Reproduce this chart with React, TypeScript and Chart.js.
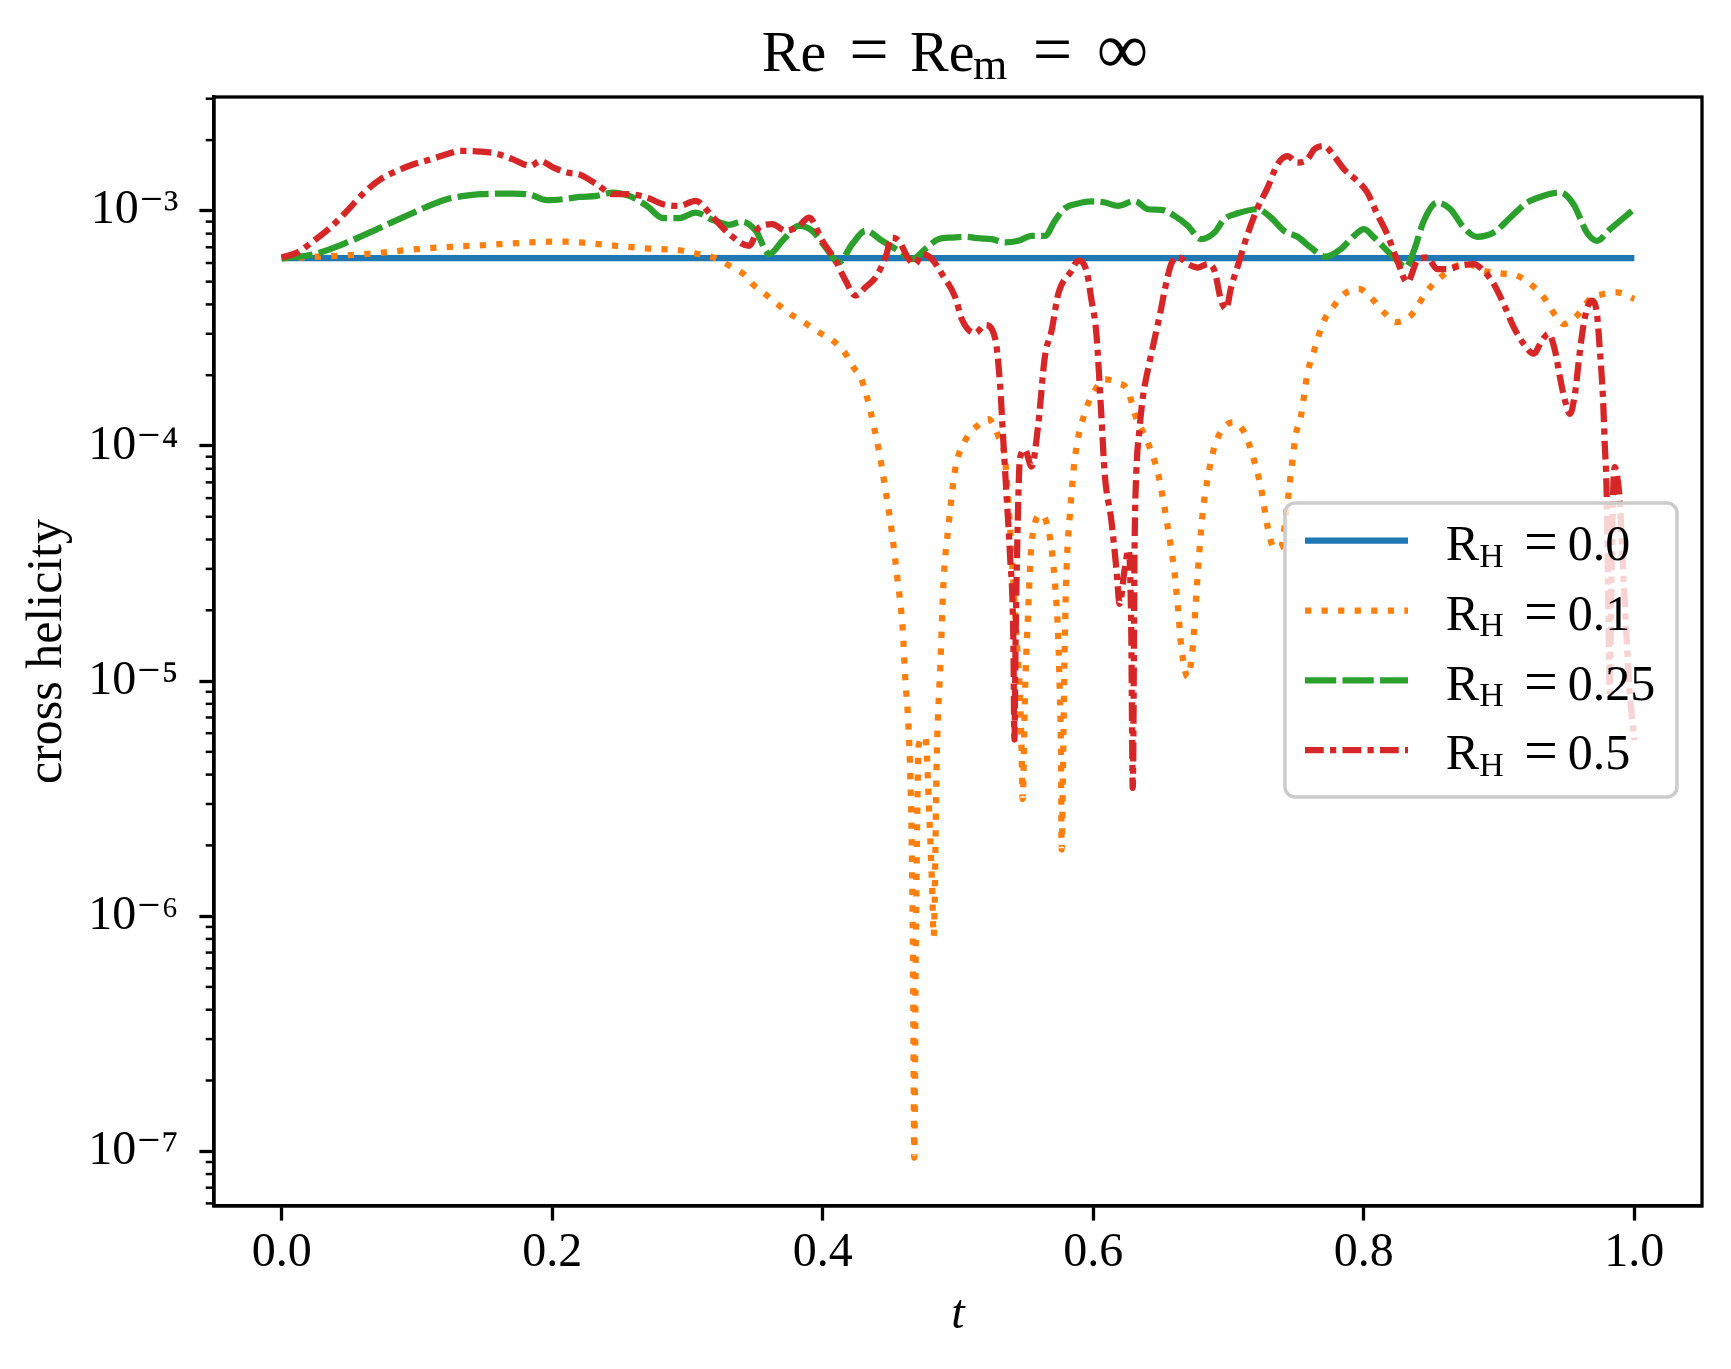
import React, { useEffect, useRef } from "react";
import { Chart, registerables } from "chart.js";

Chart.register(...registerables);

const FONT = '"Liberation Serif", "DejaVu Serif", serif';

// ---- data ----
const rhLabels = ["0.0", "0.1", "0.25", "0.5"];
const lineColors = ["#1f77b4", "#ff7f0e", "#2ca02c", "#d62728"];

const xTicks = [0, 0.2, 0.4, 0.6, 0.8, 1.0];
const yTicks = [1e-7, 1e-6, 1e-5, 1e-4, 1e-3];
const minorMultipliers = [2, 3, 4, 5, 6, 7, 8, 9];
const xLimits = [-0.05, 1.05];
const yLimits = [5.85e-8, 3.05e-3];

// [t, cross helicity]
const helicityRH000: number[][] = [[0, 6.3e-4], [1, 6.3e-4]];

const helicityRH010: number[][] = [
  [0, 6.28e-4], [0.026, 6.38e-4], [0.051, 6.49e-4], [0.075, 6.65e-4], [0.1, 6.87e-4],
  [0.125, 7.03e-4], [0.149, 7.14e-4], [0.174, 7.29e-4], [0.198, 7.39e-4], [0.211, 7.39e-4],
  [0.223, 7.32e-4], [0.247, 7.1e-4], [0.272, 6.91e-4], [0.294, 6.8e-4], [0.306, 6.59e-4],
  [0.319, 6.34e-4], [0.331, 5.85e-4], [0.343, 5.3e-4], [0.348, 4.89e-4], [0.358, 4.4e-4],
  [0.368, 3.95e-4], [0.378, 3.58e-4], [0.387, 3.33e-4], [0.397, 3.05e-4], [0.408, 2.79e-4],
  [0.417, 2.46e-4], [0.423, 2.15e-4], [0.429, 1.9e-4], [0.441, 9.9e-5], [0.446, 6.73e-5],
  [0.451, 4.34e-5], [0.455, 2.79e-5], [0.459, 1.7e-5], [0.461, 1.03e-5], [0.4635, 6.28e-6],
  [0.4648, 3.83e-6], [0.466, 1.67e-6], [0.4668, 5.56e-7], [0.4677, 9.4e-8], [0.4687, 6.3e-7],
  [0.4698, 2.5e-6], [0.4709, 5.33e-6], [0.4758, 5.79e-6], [0.479, 2.5e-6], [0.481, 1.26e-6],
  [0.482, 8.18e-7], [0.4844, 5.05e-6], [0.4869, 1.15e-5], [0.4893, 2.64e-5], [0.493, 4.57e-5],
  [0.4979, 7.94e-5], [0.5052, 1.05e-4], [0.5151, 1.23e-4], [0.5224, 1.3e-4], [0.5298, 1.1e-4],
  [0.5347, 8.87e-5], [0.5384, 4.57e-5], [0.5409, 2.64e-5], [0.5433, 1.52e-5], [0.5458, 8.75e-6],
  [0.547, 5.05e-6], [0.5478, 3.15e-6], [0.5495, 8.75e-6], [0.5519, 2.0e-5], [0.5544, 3.88e-5],
  [0.5617, 5.1e-5], [0.5679, 4.09e-5], [0.5716, 2.64e-5], [0.5741, 1.52e-5], [0.5753, 8.75e-6],
  [0.5761, 5.05e-6], [0.5766, 1.92e-6], [0.5778, 5.05e-6], [0.579, 1.52e-5], [0.5802, 2.94e-5],
  [0.5827, 5.1e-5], [0.5864, 8.87e-5], [0.5937, 1.38e-4], [0.6011, 1.72e-4], [0.6085, 1.92e-4],
  [0.6183, 1.85e-4], [0.6257, 1.72e-4], [0.6306, 1.37e-4], [0.6404, 1.03e-4], [0.6478, 7.66e-5],
  [0.6527, 5.44e-5], [0.6564, 4.04e-5], [0.6601, 2.88e-5], [0.6626, 2.05e-5], [0.665, 1.41e-5],
  [0.6699, 1.04e-5], [0.6736, 1.41e-5], [0.6761, 2.3e-5], [0.6785, 3.61e-5], [0.681, 5.25e-5],
  [0.6847, 7.36e-5], [0.6896, 9.93e-5], [0.6957, 1.18e-4], [0.7031, 1.26e-4], [0.7117, 1.14e-4],
  [0.7191, 8.59e-5], [0.724, 6.61e-5], [0.7289, 4.52e-5], [0.7338, 3.67e-5], [0.7388, 3.72e-5],
  [0.7425, 5.06e-5], [0.7461, 7.66e-5], [0.7498, 1.12e-4], [0.7535, 1.34e-4], [0.7584, 2.04e-4],
  [0.7633, 2.55e-4], [0.7706, 3.41e-4], [0.778, 3.95e-4], [0.7854, 4.43e-4], [0.7965, 4.66e-4],
  [0.805, 4.29e-4], [0.8149, 3.7e-4], [0.8235, 3.36e-4], [0.8346, 3.58e-4], [0.8469, 4.57e-4],
  [0.8567, 5.21e-4], [0.8665, 5.78e-4], [0.8763, 5.94e-4], [0.8886, 5.56e-4], [0.9009, 5.42e-4],
  [0.9132, 5.3e-4], [0.9231, 4.89e-4], [0.9329, 4.29e-4], [0.9427, 3.52e-4], [0.9477, 3.3e-4],
  [0.9575, 3.58e-4], [0.9673, 4.22e-4], [0.9771, 4.43e-4], [0.987, 4.5e-4], [1.0, 4.22e-4],
];

const helicityRH025: number[][] = [
  [0, 6.28e-4], [0.0238, 6.54e-4], [0.0484, 7.34e-4], [0.073, 8.49e-4], [0.0975, 9.84e-4],
  [0.122, 1.121e-3], [0.135, 1.158e-3], [0.147, 1.177e-3], [0.171, 1.185e-3], [0.184, 1.169e-3],
  [0.196, 1.11e-3], [0.208, 1.121e-3], [0.22, 1.146e-3], [0.233, 1.158e-3], [0.245, 1.196e-3],
  [0.257, 1.158e-3], [0.27, 1.05e-3], [0.282, 9.31e-4], [0.294, 9.31e-4], [0.306, 9.84e-4],
  [0.319, 9.13e-4], [0.331, 8.72e-4], [0.34, 9.0e-4], [0.3505, 8.23e-4], [0.3604, 6.55e-4],
  [0.3702, 7.46e-4], [0.3825, 8.64e-4], [0.3923, 8.23e-4], [0.4021, 6.99e-4], [0.4119, 6.04e-4],
  [0.4218, 7.22e-4], [0.4316, 8.23e-4], [0.4439, 7.46e-4], [0.4562, 6.76e-4], [0.466, 6.23e-4],
  [0.4758, 6.88e-4], [0.4856, 7.58e-4], [0.4954, 7.7e-4], [0.5053, 7.76e-4], [0.5151, 7.65e-4],
  [0.5249, 7.58e-4], [0.5347, 7.34e-4], [0.5446, 7.46e-4], [0.5544, 7.83e-4], [0.5642, 7.83e-4],
  [0.5716, 9.07e-4], [0.579, 1.026e-3], [0.5888, 1.074e-3], [0.5986, 1.096e-3], [0.6085, 1.085e-3],
  [0.6183, 1.05e-3], [0.6306, 1.103e-3], [0.6404, 1.016e-3], [0.6502, 1.01e-3], [0.6601, 9.52e-4],
  [0.6699, 8.64e-4], [0.6797, 7.58e-4], [0.6896, 8.09e-4], [0.6969, 9.22e-4], [0.7067, 9.76e-4],
  [0.7215, 1.016e-3], [0.7313, 9.37e-4], [0.7411, 8.22e-4], [0.751, 7.76e-4], [0.7608, 6.98e-4],
  [0.7718, 6.38e-4], [0.7829, 6.87e-4], [0.7928, 7.83e-4], [0.8001, 8.36e-4], [0.8075, 7.71e-4],
  [0.8173, 6.76e-4], [0.8247, 6.14e-4], [0.8309, 5.74e-4], [0.837, 6.76e-4], [0.8444, 9.08e-4],
  [0.8542, 1.084e-3], [0.864, 1.016e-3], [0.8739, 8.49e-4], [0.8837, 7.76e-4], [0.896, 8.09e-4],
  [0.9083, 9.37e-4], [0.9206, 1.084e-3], [0.9329, 1.159e-3], [0.9452, 1.197e-3], [0.955, 1.067e-3],
  [0.9649, 8.09e-4], [0.9722, 7.46e-4], [0.9821, 8.36e-4], [1.0, 1.02e-3],
];

const helicityRH050: number[][] = [
  [0, 6.34e-4], [0.0115, 6.65e-4], [0.0238, 7.46e-4], [0.036, 8.49e-4], [0.0484, 1.0e-3],
  [0.061, 1.196e-3], [0.073, 1.362e-3], [0.0852, 1.479e-3], [0.0975, 1.578e-3], [0.11, 1.656e-3],
  [0.122, 1.741e-3], [0.132, 1.798e-3], [0.147, 1.787e-3], [0.159, 1.75e-3], [0.171, 1.656e-3],
  [0.184, 1.552e-3], [0.191, 1.63e-3], [0.201, 1.527e-3], [0.211, 1.455e-3], [0.22, 1.43e-3],
  [0.233, 1.297e-3], [0.245, 1.177e-3], [0.257, 1.177e-3], [0.27, 1.139e-3], [0.282, 1.067e-3],
  [0.294, 1.05e-3], [0.306, 1.103e-3], [0.319, 9.37e-4], [0.331, 7.96e-4], [0.3456, 7.1e-4],
  [0.353, 8.49e-4], [0.3628, 8.78e-4], [0.3727, 8.23e-4], [0.3825, 8.64e-4], [0.3899, 9.37e-4],
  [0.3997, 7.46e-4], [0.4095, 6.14e-4], [0.4169, 5.05e-4], [0.4243, 4.36e-4], [0.4316, 4.73e-4],
  [0.439, 5.21e-4], [0.4464, 6.34e-4], [0.4513, 7.7e-4], [0.4562, 7.46e-4], [0.4636, 6.23e-4],
  [0.4685, 5.94e-4], [0.4734, 6.55e-4], [0.4808, 6.23e-4], [0.4882, 5.38e-4], [0.498, 4.29e-4],
  [0.5029, 3.45e-4], [0.5127, 3.02e-4], [0.5201, 3.27e-4], [0.5275, 2.86e-4], [0.5311, 1.82e-4],
  [0.5335, 1.05e-4], [0.536, 6.03e-5], [0.5384, 3.48e-5], [0.5409, 1.52e-5], [0.5417, 5.64e-6],
  [0.5426, 1.52e-5], [0.5441, 4.57e-5], [0.5458, 8.87e-5], [0.5495, 9.62e-5], [0.5544, 8.17e-5],
  [0.5593, 1.23e-4], [0.5642, 2.39e-4], [0.5692, 3.1e-4], [0.5741, 4.43e-4], [0.5839, 5.56e-4],
  [0.5888, 6.14e-4], [0.595, 5.56e-4], [0.5986, 4.2e-4], [0.6023, 3.0e-4], [0.606, 1.34e-4],
  [0.6084, 7.66e-5], [0.6134, 4.8e-5], [0.6171, 2.99e-5], [0.6195, 2.13e-5], [0.6232, 2.99e-5],
  [0.6262, 3.61e-5], [0.628, 1.78e-5], [0.6292, 3.51e-6], [0.6306, 3.98e-5], [0.6318, 7.66e-5],
  [0.6343, 1.2e-4], [0.6367, 1.62e-4], [0.6404, 2.11e-4], [0.6453, 2.85e-4], [0.6502, 3.85e-4],
  [0.6527, 4.57e-4], [0.6576, 5.94e-4], [0.6626, 6.38e-4], [0.6699, 5.94e-4], [0.6773, 5.74e-4],
  [0.6847, 5.94e-4], [0.6896, 5.56e-4], [0.6945, 4.15e-4], [0.6982, 3.83e-4], [0.7019, 4.73e-4],
  [0.7067, 5.8e-4], [0.7141, 7.96e-4], [0.7215, 1.03e-3], [0.7289, 1.256e-3], [0.7362, 1.578e-3],
  [0.7436, 1.71e-3], [0.751, 1.603e-3], [0.7584, 1.66e-3], [0.7633, 1.828e-3], [0.7706, 1.888e-3],
  [0.778, 1.71e-3], [0.7854, 1.503e-3], [0.7952, 1.34e-3], [0.8026, 1.197e-3], [0.8099, 9.68e-4],
  [0.8173, 7.96e-4], [0.8247, 6.14e-4], [0.8321, 4.97e-4], [0.8395, 6.14e-4], [0.8469, 6.34e-4],
  [0.8542, 5.65e-4], [0.8616, 5.65e-4], [0.8714, 5.85e-4], [0.8813, 5.94e-4], [0.8886, 5.56e-4],
  [0.896, 4.89e-4], [0.9034, 4.02e-4], [0.9108, 3.2e-4], [0.9182, 2.72e-4], [0.9256, 2.47e-4],
  [0.9317, 2.81e-4], [0.9366, 3.0e-4], [0.9413, 2.55e-4], [0.945, 1.96e-4], [0.9487, 1.56e-4],
  [0.9524, 1.37e-4], [0.9561, 1.67e-4], [0.9598, 2.55e-4], [0.9634, 3.52e-4], [0.9683, 4.15e-4],
  [0.972, 3.77e-4], [0.9745, 2.55e-4], [0.9769, 1.56e-4], [0.9781, 1.02e-4], [0.9794, 6.7e-5],
  [0.9806, 2.51e-5], [0.9818, 8.9e-6], [0.983, 2.51e-5], [0.9843, 6.31e-5], [0.9855, 8.13e-5],
  [0.987, 7.59e-5], [0.9892, 5.87e-5], [0.9916, 3.06e-5], [0.9941, 1.6e-5], [0.9966, 8.9e-6],
  [1.0, 5.6e-6],
];

const allSeries = [helicityRH000, helicityRH010, helicityRH025, helicityRH050];

// ---- styles ----
const LW = 6.25;
const lineDashes: number[][] = [[], [6.25, 10.3], [31.25, 6.25], [18.75, 6.25, 6.25, 6.25]];

const SUP: Record<string, string> = {
  "-": "\u207B", "0": "\u2070", "1": "\u00B9", "2": "\u00B2", "3": "\u00B3",
  "4": "\u2074", "5": "\u2075", "6": "\u2076", "7": "\u2077", "8": "\u2078", "9": "\u2079",
};
const powLabel = (v: number) => {
  const e = Math.round(Math.log10(v));
  return "10" + String(e).split("").map((c) => SUP[c] || c).join("");
};

const decorPlugin = {
  id: "decor",
  afterDatasetsDraw(chart: any) {
    const ctx = chart.ctx as CanvasRenderingContext2D;
    const ca = chart.chartArea;
    // legend box
    const bx = ca.right - 417;
    const by = ca.top + 406;
    const bw = 392;
    const bh = 294;
    const r = 10;
    ctx.save();
    ctx.beginPath();
    ctx.moveTo(bx + r, by);
    ctx.lineTo(bx + bw - r, by);
    ctx.arcTo(bx + bw, by, bx + bw, by + r, r);
    ctx.lineTo(bx + bw, by + bh - r);
    ctx.arcTo(bx + bw, by + bh, bx + bw - r, by + bh, r);
    ctx.lineTo(bx + r, by + bh);
    ctx.arcTo(bx, by + bh, bx, by + bh - r, r);
    ctx.lineTo(bx, by + r);
    ctx.arcTo(bx, by, bx + r, by, r);
    ctx.closePath();
    ctx.fillStyle = "rgba(255,255,255,0.8)";
    ctx.fill();
    ctx.lineWidth = 3.5;
    ctx.strokeStyle = "#cccccc";
    ctx.stroke();

    rhLabels.forEach((lab, i) => {
      const ry = by + 37.7 + i * 69.8;
      ctx.beginPath();
      ctx.setLineDash(lineDashes[i]);
      ctx.lineDashOffset = 0;
      ctx.lineCap = "butt";
      ctx.lineWidth = LW;
      ctx.strokeStyle = lineColors[i];
      ctx.moveTo(bx + 20, ry);
      ctx.lineTo(bx + 123, ry);
      ctx.stroke();
      ctx.setLineDash([]);

      const tx = bx + 160.7;
      const base = ry + 19.3;
      ctx.fillStyle = "#000";
      ctx.textBaseline = "alphabetic";
      ctx.textAlign = "left";
      ctx.font = `50px ${FONT}`;
      ctx.fillText("R", tx, base);
      ctx.font = `34px ${FONT}`;
      ctx.fillText("H", tx + 33.5, base + 6.5);
      ctx.font = `60px ${FONT}`;
      ctx.textAlign = "center";
      ctx.fillText("=", tx + 95.3, base + 1);
      ctx.font = `50px ${FONT}`;
      ctx.textAlign = "left";
      ctx.fillText(lab, tx + 122, base);
    });
    ctx.restore();
  },
  afterDraw(chart: any) {
    const ctx = chart.ctx as CanvasRenderingContext2D;
    const ca = chart.chartArea;
    const yScale = chart.scales.y;
    ctx.save();
    // frame
    ctx.strokeStyle = "#000";
    ctx.lineWidth = 3.3;
    ctx.strokeRect(ca.left, ca.top, ca.right - ca.left, ca.bottom - ca.top);
    // minor ticks on log axis
    ctx.lineWidth = 2.5;
    for (let k = -9; k <= -2; k++) {
      for (const m of minorMultipliers) {
        const v = m * Math.pow(10, k);
        if (v < yLimits[0] || v > yLimits[1]) continue;
        const py = yScale.getPixelForValue(v);
        ctx.beginPath();
        ctx.moveTo(ca.left - 8.3, py);
        ctx.lineTo(ca.left, py);
        ctx.stroke();
      }
    }
    // title: Re = Re_m = ∞
    const cx = (ca.left + ca.right) / 2;
    const base = ca.top - 26;
    ctx.fillStyle = "#000";
    ctx.textBaseline = "alphabetic";
    ctx.font = `58px ${FONT}`;
    ctx.textAlign = "left";
    ctx.fillText("Re", cx - 196.3, base);
    ctx.font = `70px ${FONT}`;
    ctx.textAlign = "center";
    ctx.fillText("=", cx - 89, base + 2);
    ctx.font = `58px ${FONT}`;
    ctx.textAlign = "left";
    ctx.fillText("Re", cx - 48, base);
    ctx.font = `44px ${FONT}`;
    ctx.fillText("m", cx + 15, base + 8.3);
    ctx.font = `70px ${FONT}`;
    ctx.textAlign = "center";
    ctx.fillText("=", cx + 94.5, base + 2);
    ctx.font = `72px ${FONT}`;
    ctx.fillText("\u221E", cx + 164.5, base + 2);
    ctx.restore();
  },
};

export default function App() {
  const canvasRef = useRef<HTMLCanvasElement | null>(null);

  useEffect(() => {
    const canvas = canvasRef.current;
    if (!canvas) return;
    Chart.defaults.font.family = FONT;
    const chart = new Chart(canvas, {
      type: "line",
      data: {
        datasets: allSeries.map((s, i) => ({
          label: "R_H = " + rhLabels[i],
          data: s.map(([x, y]) => ({ x, y })),
          borderColor: lineColors[i],
          backgroundColor: lineColors[i],
          borderWidth: LW,
          borderDash: lineDashes[i],
          borderCapStyle: "butt",
          borderJoinStyle: "round",
          pointRadius: 0,
          pointHoverRadius: 0,
          fill: false,
          cubicInterpolationMode: "monotone",
          order: 3 - i,
        })),
      },
      options: {
        animation: false,
        responsive: false,
        maintainAspectRatio: false,
        devicePixelRatio: 1,
        events: [],
        layout: { padding: { left: 0, right: 29, top: 97, bottom: 0 } },
        plugins: {
          legend: { display: false },
          title: { display: false },
          tooltip: { enabled: false },
        },
        scales: {
          x: {
            type: "linear",
            min: xLimits[0],
            max: xLimits[1],
            afterFit: (s: any) => {
              s.height = 163;
            },
            afterBuildTicks: (s: any) => {
              s.ticks = xTicks.map((v) => ({ value: v }));
            },
            grid: {
              drawOnChartArea: false,
              drawTicks: true,
              tickLength: 14.6,
              tickWidth: 3.3,
              tickColor: "#000",
            },
            border: { display: true, color: "#000", width: 3.3 },
            ticks: {
              color: "#000",
              font: { family: FONT, size: 48 },
              padding: 4,
              maxRotation: 0,
              autoSkip: false,
              callback: (v: any) => Number(v).toFixed(1),
            },
            title: {
              display: true,
              text: "t",
              color: "#000",
              font: { family: FONT, size: 48, style: "italic" },
              padding: { top: 0, bottom: 25 },
            },
          },
          y: {
            type: "logarithmic",
            min: yLimits[0],
            max: yLimits[1],
            afterFit: (s: any) => {
              s.width = 214;
            },
            afterBuildTicks: (s: any) => {
              s.ticks = yTicks.map((v) => ({ value: v }));
            },
            grid: {
              drawOnChartArea: false,
              drawTicks: true,
              tickLength: 14.6,
              tickWidth: 3.3,
              tickColor: "#000",
            },
            border: { display: true, color: "#000", width: 3.3 },
            ticks: {
              color: "#000",
              font: { family: FONT, size: 48 },
              padding: 21,
              autoSkip: false,
              callback: (v: any) => powLabel(Number(v)),
            },
            title: {
              display: true,
              text: "cross helicity",
              color: "#000",
              font: { family: FONT, size: 50 },
              padding: { top: 18, bottom: 0 },
            },
          },
        },
      } as any,
      plugins: [decorPlugin],
    });
    return () => chart.destroy();
  }, []);

  return (
    <div style={{ position: "absolute", left: 0, top: 0, width: 1731, height: 1369, background: "#fff" }}>
      <canvas ref={canvasRef} width={1731} height={1369} style={{ width: 1731, height: 1369, display: "block" }} />
    </div>
  );
}
